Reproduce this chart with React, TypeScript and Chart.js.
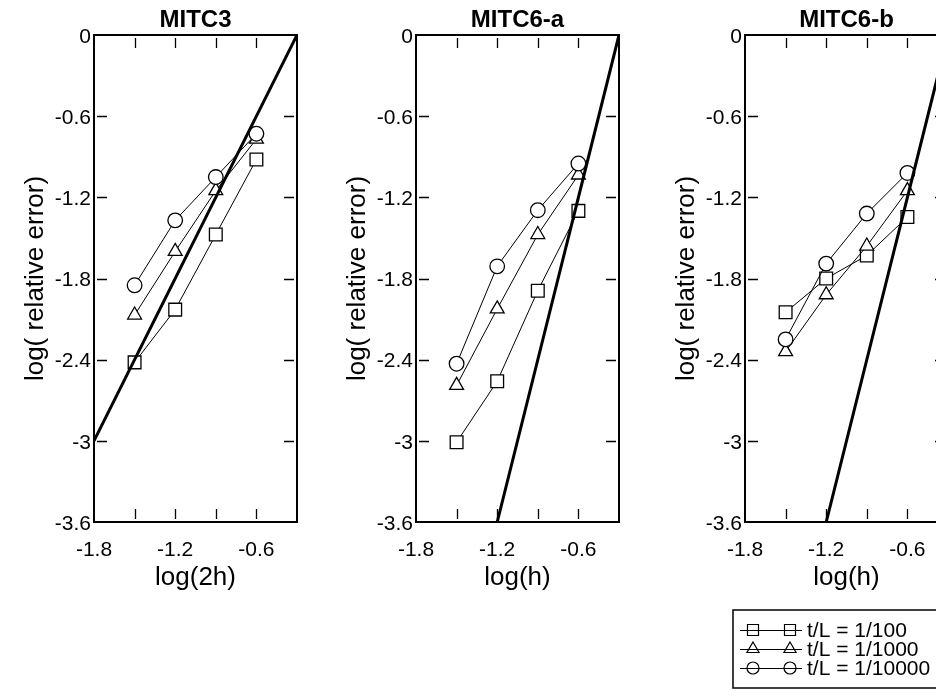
import React, { useEffect, useRef } from 'react';
import { Chart, registerables } from 'chart.js';

Chart.register(...registerables);

const FONT = "'Liberation Sans', Arial, Helvetica, sans-serif";

// ---- data ----
const xValues = [-1.5, -1.2, -0.9, -0.6];

const mitc3Square = [-2.42, -2.03, -1.475, -0.92];
const mitc3Triangle = [-2.07, -1.6, -1.15, -0.77];
const mitc3Circle = [-1.85, -1.37, -1.05, -0.73];

const mitc6aSquare = [-3.01, -2.56, -1.89, -1.3];
const mitc6aTriangle = [-2.59, -2.025, -1.475, -1.035];
const mitc6aCircle = [-2.43, -1.71, -1.295, -0.95];

const mitc6bSquare = [-2.05, -1.8, -1.63, -1.345];
const mitc6bTriangle = [-2.34, -1.92, -1.56, -1.15];
const mitc6bCircle = [-2.25, -1.69, -1.32, -1.02];

// reference slope lines (two end points each)
const refLine3X = [-1.8, -0.3];
const refLine3Y = [-3, 0];
const refLine6X = [-1.2, -0.3];
const refLine6Y = [-3.6, 0];

// ---- ticks / labels ----
const xTickLabels = [-1.8, -1.2, -0.6];
const xMinorTicks = [-1.5, -1.2, -0.9, -0.6];
const yTicks = [-3.6, -3, -2.4, -1.8, -1.2, -0.6, 0];
const yMinorTicks = [-3, -2.4, -1.8, -1.2, -0.6];

const panelTitles = ['MITC3', 'MITC6-a', 'MITC6-b'];
const xAxisTitles = ['log(2h)', 'log(h)', 'log(h)'];
const yAxisTitle = 'log( relative error)';
const seriesLabels = ['t/L = 1/100', 't/L = 1/1000', 't/L = 1/10000'];

const panelLefts = [0, 322, 651];
const CANVAS_W = 300;
const CANVAS_H = 681;
const X_AXIS_H = 75;

const framePlugin = {
  id: 'frameTicks',
  afterDatasetsDraw(chart: any) {
    const { ctx, chartArea, scales } = chart;
    const { left, right, top, bottom } = chartArea;
    const x = scales.x;
    const y = scales.y;
    ctx.save();
    ctx.strokeStyle = '#000';
    ctx.lineWidth = 2;
    ctx.strokeRect(left, top, right - left, bottom - top);
    ctx.lineWidth = 1.3;
    ctx.beginPath();
    for (const v of xMinorTicks) {
      const px = Math.round(x.getPixelForValue(v)) + 0.5;
      ctx.moveTo(px, top + 3);
      ctx.lineTo(px, top + 13);
      ctx.moveTo(px, bottom - 3);
      ctx.lineTo(px, bottom - 13);
    }
    for (const v of yMinorTicks) {
      const py = Math.round(y.getPixelForValue(v)) + 0.5;
      ctx.moveTo(left + 3, py);
      ctx.lineTo(left + 13, py);
      ctx.moveTo(right - 3, py);
      ctx.lineTo(right - 13, py);
    }
    ctx.stroke();
    ctx.restore();
  },
};

function drawMarker(ctx: CanvasRenderingContext2D, kind: string, cx: number, cy: number) {
  ctx.beginPath();
  if (kind === 'rect') {
    ctx.rect(cx - 5.5, cy - 5.5, 11, 11);
  } else if (kind === 'triangle') {
    const r = 7;
    ctx.moveTo(cx, cy - r);
    ctx.lineTo(cx + r * Math.sin((2 * Math.PI) / 3), cy + r / 2);
    ctx.lineTo(cx - r * Math.sin((2 * Math.PI) / 3), cy + r / 2);
    ctx.closePath();
  } else {
    ctx.arc(cx, cy, 6, 0, Math.PI * 2);
  }
  ctx.stroke();
}

const legendPlugin = {
  id: 'customLegend',
  afterDraw(chart: any) {
    const { ctx, chartArea } = chart;
    const cl = chartArea.left;
    const boxTop = 602;
    const boxH = 78;
    const rows = [622, 641, 660];
    const kinds = ['rect', 'triangle', 'circle'];
    ctx.save();
    ctx.strokeStyle = '#000';
    ctx.fillStyle = '#000';
    ctx.lineWidth = 1.5;
    ctx.strokeRect(cl - 12, boxTop, 260, boxH);
    ctx.lineWidth = 1.2;
    ctx.font = `21px ${FONT}`;
    ctx.textBaseline = 'middle';
    ctx.textAlign = 'left';
    rows.forEach((ry, i) => {
      ctx.beginPath();
      ctx.moveTo(cl - 5, ry + 0.5);
      ctx.lineTo(cl + 57, ry + 0.5);
      ctx.stroke();
      drawMarker(ctx, kinds[i], cl + 8, ry);
      drawMarker(ctx, kinds[i], cl + 45, ry);
      ctx.fillText(seriesLabels[i], cl + 62, ry + 1);
    });
    ctx.restore();
  },
};

function series(label: string, vals: number[], style: string, radius: number) {
  return {
    label,
    data: xValues.map((x, i) => ({ x, y: vals[i] })),
    borderColor: '#000',
    borderWidth: 1,
    pointStyle: style,
    pointRadius: radius,
    pointBorderWidth: 1.3,
    pointBorderColor: '#000',
    pointBackgroundColor: '#fff',
    fill: false,
    tension: 0,
  };
}

function makeConfig(i: number) {
  const sets = [
    [mitc3Square, mitc3Triangle, mitc3Circle],
    [mitc6aSquare, mitc6aTriangle, mitc6aCircle],
    [mitc6bSquare, mitc6bTriangle, mitc6bCircle],
  ][i];
  const rx = i === 0 ? refLine3X : refLine6X;
  const ry = i === 0 ? refLine3Y : refLine6Y;
  return {
    type: 'line',
    data: {
      datasets: [
        {
          label: 'slope',
          data: rx.map((x, k) => ({ x, y: ry[k] })),
          borderColor: '#000',
          borderWidth: 3,
          pointRadius: 0,
          fill: false,
        },
        series(seriesLabels[2], sets[2], 'circle', 7.3),
        series(seriesLabels[1], sets[1], 'triangle', 8),
        series(seriesLabels[0], sets[0], 'rect', 9),
      ],
    },
    options: {
      animation: false,
      responsive: false,
      events: [],
      layout: { padding: { left: 8, right: 11, top: 0, bottom: CANVAS_H - 514 - X_AXIS_H } },
      plugins: {
        legend: { display: false },
        tooltip: { enabled: false },
        title: {
          display: true,
          text: panelTitles[i],
          color: '#000',
          fullSize: false,
          font: { family: FONT, size: 24, weight: 'bold', lineHeight: 1 },
          padding: { top: 0, bottom: 3 },
        },
      },
      scales: {
        x: {
          type: 'linear',
          min: -1.8,
          max: -0.3,
          afterBuildTicks: (s: any) => {
            s.ticks = xTickLabels.map((v) => ({ value: v }));
          },
          afterFit: (s: any) => {
            s.height = X_AXIS_H;
          },
          grid: { display: false, drawTicks: false },
          border: { display: false },
          ticks: {
            autoSkip: false,
            maxRotation: 0,
            padding: 16,
            color: '#000',
            font: { family: FONT, size: 21 },
            callback: (v: any) => Number(v).toFixed(1),
          },
          title: {
            display: true,
            text: xAxisTitles[i],
            color: '#000',
            font: { family: FONT, size: 26 },
            padding: { top: 4, bottom: 4 },
          },
        },
        y: {
          type: 'linear',
          min: -3.6,
          max: 0,
          afterBuildTicks: (s: any) => {
            s.ticks = yTicks.map((v) => ({ value: v }));
          },
          afterFit: (s: any) => {
            s.width = 78;
          },
          grid: { display: false, drawTicks: false },
          border: { display: false },
          ticks: {
            padding: 3,
            labelOffset: 2,
            color: '#000',
            font: { family: FONT, size: 21 },
            callback: (v: any) => String(Number(Number(v).toFixed(1))),
          },
          title: {
            display: true,
            text: yAxisTitle,
            color: '#000',
            font: { family: FONT, size: 26 },
            padding: { top: 4, bottom: 4 },
          },
        },
      },
    },
    plugins: i === 2 ? [framePlugin, legendPlugin] : [framePlugin],
  };
}

export default function App() {
  const r0 = useRef<HTMLCanvasElement>(null);
  const r1 = useRef<HTMLCanvasElement>(null);
  const r2 = useRef<HTMLCanvasElement>(null);
  const refs = [r0, r1, r2];

  useEffect(() => {
    document.documentElement.style.overflow = 'hidden';
    const charts = refs.map((r, i) => new Chart(r.current as HTMLCanvasElement, makeConfig(i) as any));
    return () => charts.forEach((c) => c.destroy());
  }, []);

  return (
    <div
      style={{
        position: 'relative',
        width: 936,
        height: CANVAS_H,
        overflow: 'hidden',
        background: '#fff',
      }}
    >
      {panelLefts.map((l, i) => (
        <canvas
          key={i}
          ref={refs[i]}
          width={CANVAS_W}
          height={CANVAS_H}
          style={{ position: 'absolute', left: l, top: 0, width: CANVAS_W, height: CANVAS_H }}
        />
      ))}
    </div>
  );
}
